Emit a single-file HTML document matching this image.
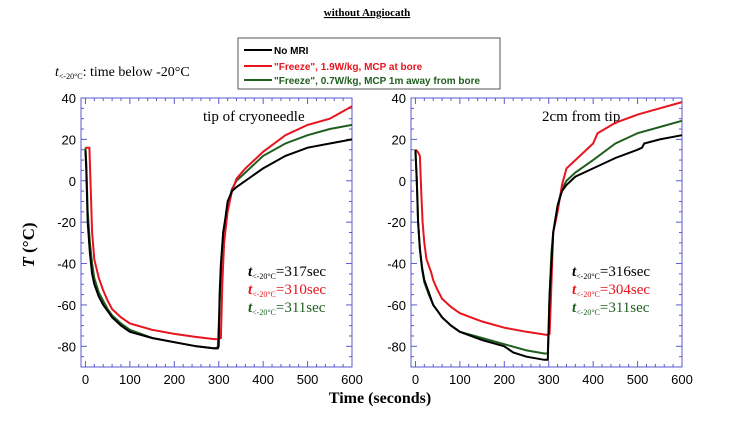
<!DOCTYPE html>
<html><head><meta charset="utf-8"><style>
body{margin:0;background:#fff}
svg text{font-family:"Liberation Sans",sans-serif}
</style></head><body>
<svg id="s" width="735" height="422" xmlns="http://www.w3.org/2000/svg">
<text x="367" y="16" text-anchor="middle" font-size="11" font-weight="bold" text-decoration="underline" style="font-family:'Liberation Serif',serif">without Angiocath</text>
<g>
<rect x="238" y="38" width="262" height="51" fill="#fff" stroke="#555" stroke-width="1"/>
<line x1="244" y1="50" x2="272" y2="50" stroke="#000" stroke-width="2"/>
<text x="274" y="54" font-size="10" font-weight="bold" fill="#000">No MRI</text>
<line x1="244" y1="66" x2="272" y2="66" stroke="#e8141e" stroke-width="2"/>
<text x="274" y="70" font-size="10" font-weight="bold" fill="#e8141e">"Freeze", 1.9W/kg, MCP at bore</text>
<line x1="244" y1="80" x2="272" y2="80" stroke="#1f5e1f" stroke-width="2"/>
<text x="274" y="84" font-size="10" font-weight="bold" fill="#1f5e1f">"Freeze", 0.7W/kg, MCP 1m away from bore</text>
</g>
<text x="55" y="76" font-size="14" style="font-family:'Liberation Serif',serif"><tspan font-style="italic">t</tspan><tspan font-size="8" dy="3">&lt;-20°C</tspan><tspan dy="-3">: time below -20°C</tspan></text>
<text transform="translate(34,245) rotate(-90)" text-anchor="middle" font-size="17" font-weight="bold" style="font-family:'Liberation Serif',serif"><tspan font-style="italic">T</tspan> (°C)</text>
<text x="380" y="403" text-anchor="middle" font-size="16" font-weight="bold" style="font-family:'Liberation Serif',serif">Time (seconds)</text>
</svg>
<script>
const xTicks=[0,100,200,300,400,500,600];
const yTicks=[40,20,0,-20,-40,-60,-80];
const L_tBlack=[0,2,5,10,15,20,30,40,50,60,80,100,150,200,250,290,298,300,302,305,310,315,320,330,340,360,400,450,500,550,600];
const L_vBlack=[15,5,-20,-35,-45,-50,-56,-60,-63,-66,-70,-73,-76,-78,-80,-81,-81,-80,-55,-40,-25,-18,-10,-5,-3,0,6,12,16,18,20];
const L_tRed=[0,5,9,12,15,20,30,40,50,60,80,100,150,200,250,290,298,305,308,312,320,330,340,360,400,450,500,550,600];
const L_vRed=[16,16,16,-5,-25,-38,-47,-53,-58,-62,-66,-69,-72,-74,-75.5,-76.5,-76.5,-76,-50,-30,-15,-5,1,6,14,22,27,30,36];
const L_tGreen=[0,2,5,10,15,20,30,40,50,60,80,100,150,200,250,290,298,302,306,310,320,330,340,360,400,450,500,550,600];
const L_vGreen=[16,8,-15,-30,-40,-47,-54,-58,-62,-65,-69,-72,-76,-78,-80,-81,-80.5,-60,-40,-25,-12,-4,0,4,12,18,22,25,27];
const R_tBlack=[0,3,6,10,15,20,30,40,50,60,80,100,150,200,220,250,290,298,302,306,310,320,330,340,360,400,450,500,510,515,550,600];
const R_vBlack=[15,0,-20,-33,-42,-48,-54,-60,-63,-66,-70,-73,-77,-80,-83,-85,-86.5,-86.5,-55,-40,-25,-12,-5,-2,2,6,11,15,16,18,20,22];
const R_tRed=[0,5,10,13,16,20,25,35,40,50,60,80,100,150,200,250,295,302,306,310,320,330,340,360,400,410,450,500,550,600];
const R_vRed=[15,14,12,-5,-20,-30,-38,-44,-48,-53,-57,-61,-64,-68,-71,-73,-74.5,-74,-50,-25,-15,-2,6,10,18,23,28,32,35,38];
const R_tGreen=[0,3,6,10,15,20,30,40,50,60,80,100,150,200,250,290,298,302,306,310,320,330,340,360,400,450,500,550,600];
const R_vGreen=[15,0,-20,-33,-43,-49,-55,-60,-63,-66,-70,-73,-76,-79,-82,-83.5,-83.5,-55,-35,-25,-12,-4,0,4,10,18,23,26,29];
const labelsL=["317sec","310sec","311sec"];
const labelsR=["316sec","304sec","311sec"];
const colors=["#000","#e8141e","#1f5e1f"];
const NS="http://www.w3.org/2000/svg";
const svg=document.getElementById('s');
function mk(t,a,p){const e=document.createElementNS(NS,t);for(const k in a)e.setAttribute(k,a[k]);(p||svg).appendChild(e);return e;}
function panel(x0,name,title,titleX,series,labels,annX){
  const y0=98,w=271,h=269;
  const g=mk('g',{});
  
  
  const xs=v=>x0+(v+10)/610*w;
  const ys=v=>y0+(40-v)/130*h;
  mk('rect',{x:x0,y:y0,width:w,height:h,fill:'none',stroke:'#5a5ad0','stroke-width':1},g);
  for(let v=0;v<=600;v+=20){const X=xs(v),L=v%100==0?6:3;
    mk('line',{x1:X,y1:y0+h,x2:X,y2:y0+h-L,stroke:'#5a5ad0'},g);
    mk('line',{x1:X,y1:y0,x2:X,y2:y0+L,stroke:'#5a5ad0'},g);}
  for(let v=-90;v<=40;v+=5){const Y=ys(v),L=v%20==0?6:3;
    mk('line',{x1:x0,y1:Y,x2:x0+L,y2:Y,stroke:'#5a5ad0'},g);
    mk('line',{x1:x0+w,y1:Y,x2:x0+w-L,y2:Y,stroke:'#5a5ad0'},g);}
  xTicks.forEach(v=>{const t=mk('text',{x:xs(v),y:y0+h+17,'text-anchor':'middle','font-size':13},g);t.textContent=v;
    
    });
  yTicks.forEach(v=>{const t=mk('text',{x:x0-5,y:ys(v)+5,'text-anchor':'end','font-size':13},g);t.textContent=v;
    
    });
  const tt=mk('text',{x:titleX,y:y0+23,'font-size':15,style:"font-family:'Liberation Serif',serif"},g);tt.textContent=title;
  
  
  const order=[2,1,0];
  order.forEach(i=>{const [ts,vs]=series[i];
    const d=ts.map((t,j)=>(j?'L':'M')+xs(t).toFixed(1)+','+ys(vs[j]).toFixed(1)).join('');
    const p=mk('path',{d:d,fill:'none',stroke:colors[i],'stroke-width':2},g);
    
    });
  labels.forEach((l,i)=>{const t=mk('text',{x:annX,y:276+i*18,'font-size':15,fill:colors[i],style:"font-family:'Liberation Serif',serif"},g);
    t.innerHTML='<tspan font-style="italic" font-weight="bold">t</tspan><tspan font-size="8" dy="3">&lt;-20°C</tspan><tspan dy="-3">='+l+'</tspan>';
    
    });
}
panel(81,'left-panel','tip of cryoneedle',203,[[L_tBlack,L_vBlack],[L_tRed,L_vRed],[L_tGreen,L_vGreen]],labelsL,248);
panel(411,'right-panel','2cm from tip',542,[[R_tBlack,R_vBlack],[R_tRed,R_vRed],[R_tGreen,R_vGreen]],labelsR,572);
</script>
</body></html>
